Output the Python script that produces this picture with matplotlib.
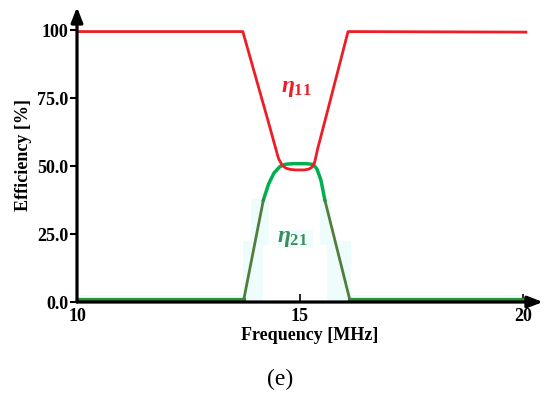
import matplotlib
matplotlib.use("Agg")
import matplotlib.pyplot as plt
from matplotlib.patches import Rectangle

# reflection efficiency eta_11 (red)
f11 = [10.0, 13.72, 14.28, 14.52, 14.6, 14.68, 14.78, 14.9, 15.0, 15.1, 15.2, 15.27,
       15.33, 15.4, 15.56, 16.08, 20.07]
e11 = [99.5, 99.5, 67.0, 52.8, 50.4, 49.3, 48.8, 48.6, 48.6, 48.6, 48.9, 49.6,
       51.3, 56.5, 66.5, 99.5, 99.3]

# transmission efficiency eta_21 (green), split by how it was coloured
f21_base_l = [10.0, 13.74]
e21_base_l = [0.8, 0.8]
f21_rise = [13.74, 14.18]
e21_rise = [0.8, 37.5]
f21_top = [14.18, 14.3, 14.42, 14.55, 14.68, 14.85, 15.0, 15.15, 15.3, 15.38, 15.47, 15.56]
e21_top = [37.5, 43.5, 47.5, 49.8, 50.7, 50.9, 50.9, 50.9, 50.6, 49.0, 45.0, 37.5]
f21_fall = [15.56, 16.12]
e21_fall = [37.5, 0.8]
f21_base_r = [16.12, 20.07]
e21_base_r = [0.8, 0.8]

xticks = [10, 15, 20]
yticks = [0, 25, 50, 75, 100]
ytick_labels = ["0.0", "25.0", "50.0", "75.0", "100"]

plt.rcParams["font.family"] = "Liberation Serif"
plt.rcParams["mathtext.fontset"] = "custom"
plt.rcParams["mathtext.it"] = "Liberation Serif:italic:bold"
plt.rcParams["mathtext.rm"] = "Liberation Serif:bold"

fig = plt.figure(figsize=(5.5, 3.95), dpi=100)
ax = fig.add_axes([0.14, 0.2354, 0.847, 0.7466])
ax.set_xlim(10, 20.45)
ax.set_ylim(0, 108.5)

# faint cyan highlight boxes seen behind the lower green line
cyan = "#effcfc"
for x0, y0, w, h in [(10.05, 0.3, 3.7, 2.2), (13.72, 0.3, 0.45, 22), (13.9, 21, 0.4, 17),
                     (14.5, 20, 0.8, 6.5), (15.45, 21, 0.25, 17), (15.6, 0.3, 0.55, 22),
                     (16.1, 0.3, 3.9, 2.2)]:
    ax.add_patch(Rectangle((x0, y0), w, h, color=cyan, lw=0, zorder=0))

red = "#ee1c25"
ax.plot(f11, e11, color=red, lw=2.0, solid_joinstyle="round", zorder=3)
ax.plot(f21_base_l, e21_base_l, color="#2f8f3a", lw=3.0, zorder=3)
ax.plot(f21_base_r, e21_base_r, color="#2f8f3a", lw=3.0, zorder=3)
ax.plot(f21_rise, e21_rise, color="#4f7f3a", lw=2.0, zorder=3)
ax.plot(f21_fall, e21_fall, color="#4f7f3a", lw=2.0, zorder=3)
ax.plot(f21_top, e21_top, color="#00b04f", lw=2.5, zorder=2)

ax.text(14.93, 78.5, r"$\eta_{11}$", color=red, fontsize=17, ha="center", va="center")
ax.text(14.83, 23.5, r"$\eta_{21}$", color="#3d8c5a", fontsize=17, ha="center", va="center")

# axes as thick arrows
for s in ax.spines.values():
    s.set_visible(False)
ax.annotate("", xy=(0, 1.0), xytext=(0, 0), xycoords="axes fraction",
            arrowprops=dict(arrowstyle="-|>,head_length=0.9,head_width=0.35", lw=2.3,
                            color="black", shrinkA=0, shrinkB=0), zorder=5)
ax.annotate("", xy=(1.0, 0), xytext=(0, 0), xycoords="axes fraction",
            arrowprops=dict(arrowstyle="-|>,head_length=0.9,head_width=0.35", lw=2.3,
                            color="black", shrinkA=0, shrinkB=0), zorder=5)

ax.set_yticks(yticks)
ax.set_yticklabels(ytick_labels)
ax.set_xticks(xticks)
ax.tick_params(axis="y", direction="out", length=5, width=1.5, pad=1, labelsize=13)
ax.tick_params(axis="x", direction="in", length=6, width=1.2, pad=4, labelsize=13)
for lab in ax.get_xticklabels() + ax.get_yticklabels():
    lab.set_fontweight("bold")

ax.set_xlabel("Frequency [MHz]", fontsize=13, fontweight="bold", labelpad=2)
ax.set_ylabel("Efficiency [%]", fontsize=13, fontweight="bold", labelpad=4)

fig.text(0.51, 0.04, "(e)", fontsize=17, ha="center", va="center")

fig.savefig("out.png", dpi=100)
